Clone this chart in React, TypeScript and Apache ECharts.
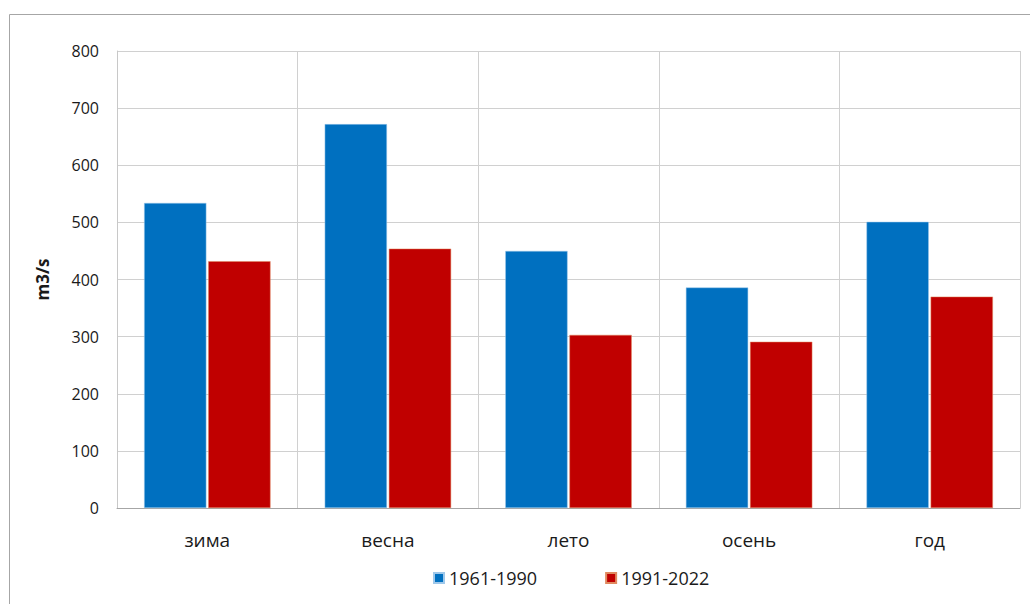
import React, { useEffect, useRef } from "react";
import * as echarts from "echarts";

const categories = ["зима", "весна", "лето", "осень", "год"];
const series1Name = "1961-1990";
const series2Name = "1991-2022";
const series1 = [534, 672, 450, 386, 501];
const series2 = [432, 454, 303, 291, 370];
const yTicks = [0, 100, 200, 300, 400, 500, 600, 700, 800];

export default function App() {
  const ref = useRef<HTMLDivElement>(null);
  useEffect(() => {
    document.body.style.margin = "0";
    const chart = echarts.init(ref.current!, null, { renderer: "svg" });
    const font = "'Open Sans', 'Noto Sans', sans-serif";
    chart.setOption({
      animation: false,
      textStyle: { fontFamily: font },
      graphic: [
        {
          type: "rect",
          shape: { x: 9.5, y: 14.5, width: 1030, height: 600 },
          style: { fill: "none", stroke: "#a6a6a6", lineWidth: 1 },
          silent: true,
        },
      ],
      grid: { left: 117, right: 10, top: 51, bottom: 96 },
      legend: {
        top: 564,
        left: 428,
        itemWidth: 10,
        itemHeight: 10,
        itemGap: 68,
        icon: "rect",
        textStyle: { fontSize: 18, color: "#1a1a1a", fontFamily: font },
        data: [series1Name, series2Name],
      },
      xAxis: {
        type: "category",
        data: categories,
        axisLine: { show: true, lineStyle: { color: "#a6a6a6" } },
        axisTick: { show: false },
        splitLine: { show: true, lineStyle: { color: "#d0d0d0" } },
        axisLabel: { fontSize: 19, color: "#1a1a1a", margin: 22, fontFamily: font },
      },
      yAxis: {
        type: "value",
        min: yTicks[0],
        max: yTicks[yTicks.length - 1],
        interval: 100,
        name: "m3/s",
        nameLocation: "middle",
        nameGap: 66,
        nameTextStyle: { fontSize: 17, fontWeight: "bold", color: "#1a1a1a", fontFamily: font },
        axisLine: { show: true, lineStyle: { color: "#c8c8c8" } },
        axisTick: { show: false },
        splitLine: { show: true, lineStyle: { color: "#d0d0d0" } },
        axisLabel: { fontSize: 16, color: "#1a1a1a", margin: 18, fontFamily: font },
      },
      series: [
        {
          name: series1Name,
          type: "bar",
          data: series1,
          barGap: "3%",
          barCategoryGap: "30%",
          itemStyle: { color: "#0070C0", borderColor: "#9fc8ea", borderWidth: 0.5 },
        },
        {
          name: series2Name,
          type: "bar",
          data: series2,
          itemStyle: { color: "#C00000", borderColor: "#e08a60", borderWidth: 0.5 },
        },
      ],
    });
    return () => chart.dispose();
  }, []);
  return <div ref={ref} style={{ width: 1030, height: 604 }} />;
}
